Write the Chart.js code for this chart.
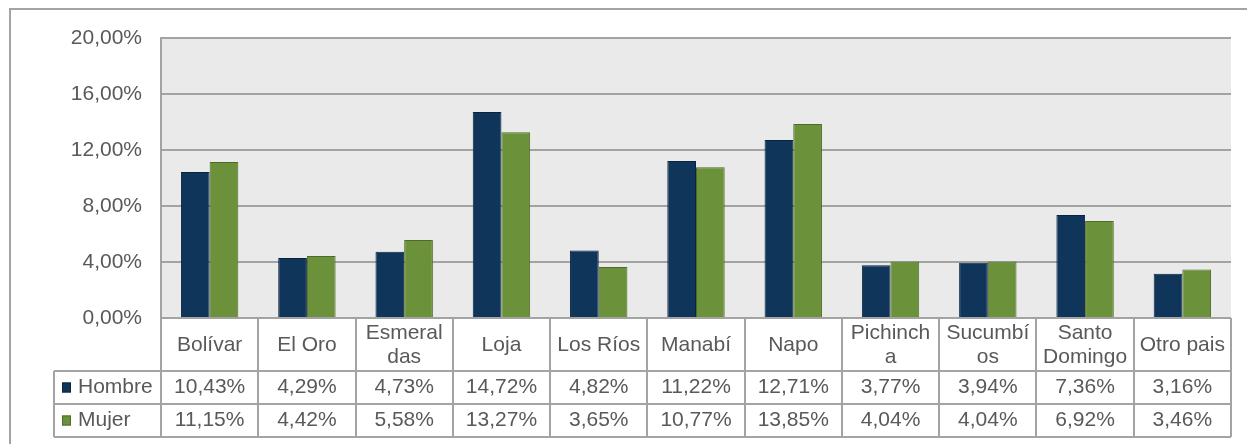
<!DOCTYPE html>
<html>
<head>
<meta charset="utf-8">
<script src="https://cdn.jsdelivr.net/npm/chart.js@4/dist/chart.umd.min.js"></script>
<style>
    html, body { margin: 0; padding: 0; background: #ffffff; }
    #wrap { width: 1247px; height: 444px; position: relative; }
</style>
</head>
<body>
<div id="wrap"><canvas id="chart"></canvas></div>
<script>
    // categories (line breaks as in the original table)
    var categories = [['Bolívar'], ['El Oro'], ['Esmeral', 'das'], ['Loja'], ['Los Ríos'], ['Manabí'],
        ['Napo'], ['Pichinch', 'a'], ['Sucumbí', 'os'], ['Santo', 'Domingo'], ['Otro pais']];
    var seriesNames = ['Hombre', 'Mujer'];
    var hombreValues = [10.43, 4.29, 4.73, 14.72, 4.82, 11.22, 12.71, 3.77, 3.94, 7.36, 3.16];
    var mujerValues = [11.15, 4.42, 5.58, 13.27, 3.65, 10.77, 13.85, 4.04, 4.04, 6.92, 3.46];
    var yTicks = [0, 4, 8, 12, 16, 20];

    var colors = ['#10355a', '#6b923a'];
    var borders = ['#0a2440', '#4e6b27'];
    var textColor = '#595959';
    var lineColor = '#a3a3a3';
    var fontFamily = '"Liberation Sans", Arial, sans-serif';

    function fmt(v) {
        return v.toFixed(2).replace('.', ',') + '%';
    }

    // plot background + outer frame
    var backgroundPlugin = {
        id: 'plotBackground',
        beforeDraw: function (chart) {
            var ctx = chart.ctx, a = chart.chartArea;
            ctx.save();
            ctx.fillStyle = '#e9eae9';
            ctx.fillRect(a.left, a.top, a.right - a.left, a.bottom - a.top);
            ctx.strokeStyle = lineColor;
            ctx.lineWidth = 2;
            ctx.beginPath();
            ctx.moveTo(10, 444);
            ctx.lineTo(10, 9);
            ctx.lineTo(1247, 9);
            ctx.stroke();
            ctx.restore();
        }
    };

    // data table under the plot
    var tablePlugin = {
        id: 'dataTable',
        afterDraw: function (chart) {
            var ctx = chart.ctx;
            var x = chart.scales.x;
            var n = categories.length;
            var left = x.left, right = x.right;
            var step = (right - left) / n;
            var top = chart.chartArea.bottom;
            var rowCat = 371, row1 = 404, row2 = 437;
            var legendLeft = 54;
            var series = [hombreValues, mujerValues];

            ctx.save();
            ctx.strokeStyle = lineColor;
            ctx.lineWidth = 2;
            ctx.beginPath();
            // verticals
            for (var i = 0; i <= n; i++) {
                var vx = Math.round(left + i * step);
                ctx.moveTo(vx, top);
                ctx.lineTo(vx, row2);
            }
            ctx.moveTo(legendLeft, rowCat);
            ctx.lineTo(legendLeft, row2);
            // horizontals
            [rowCat, row1, row2].forEach(function (hy) {
                ctx.moveTo(legendLeft, hy);
                ctx.lineTo(right, hy);
            });
            ctx.stroke();

            ctx.fillStyle = textColor;
            ctx.font = '21px ' + fontFamily;
            ctx.textAlign = 'center';
            ctx.textBaseline = 'middle';
            // category labels
            for (var c = 0; c < n; c++) {
                var cx = x.getPixelForValue(c);
                var lines = categories[c];
                var lh = 24;
                var cy = (top + rowCat) / 2 - (lines.length - 1) * lh / 2 + 1;
                for (var l = 0; l < lines.length; l++) {
                    ctx.fillText(lines[l], cx, cy + l * lh);
                }
            }
            // series rows
            var rowTops = [rowCat, row1];
            for (var s = 0; s < series.length; s++) {
                var ry = rowTops[s] + 16.5;
                for (var k = 0; k < n; k++) {
                    ctx.fillStyle = textColor;
                    ctx.textAlign = 'center';
                    ctx.fillText(fmt(series[s][k]), x.getPixelForValue(k), ry);
                }
                // legend key
                ctx.fillStyle = colors[s];
                ctx.fillRect(62, ry - 5, 9, 10);
                ctx.strokeStyle = borders[s];
                ctx.lineWidth = 1;
                ctx.strokeRect(62.5, ry - 4.5, 8, 9);
                ctx.fillStyle = textColor;
                ctx.textAlign = 'left';
                ctx.fillText(seriesNames[s], 78, ry);
            }
            ctx.restore();
        }
    };

    var data = {
        labels: categories.map(function (c) { return c.join(''); }),
        datasets: [{
            label: seriesNames[0],
            data: hombreValues,
            backgroundColor: colors[0],
            borderColor: borders[0],
            borderWidth: 1,
            categoryPercentage: 0.59,
            barPercentage: 1
        }, {
            label: seriesNames[1],
            data: mujerValues,
            backgroundColor: colors[1],
            borderColor: borders[1],
            borderWidth: 1,
            categoryPercentage: 0.59,
            barPercentage: 1
        }]
    };

    var config = {
        type: 'bar',
        data: data,
        options: {
            responsive: true,
            maintainAspectRatio: false,
            animation: false,
            layout: { padding: { left: 0, right: 16, top: 38, bottom: 126 } },
            plugins: {
                legend: { display: false },
                tooltip: { enabled: false }
            },
            scales: {
                x: {
                    display: false,
                    offset: true
                },
                y: {
                    min: 0,
                    max: 20,
                    afterFit: function (scale) { scale.width = 161; },
                    afterBuildTicks: function (scale) {
                        scale.ticks = yTicks.map(function (v) { return { value: v }; });
                    },
                    ticks: {
                        padding: 19,
                        color: textColor,
                        font: { family: fontFamily, size: 21 },
                        callback: function (v) { return fmt(v); }
                    },
                    grid: {
                        color: lineColor,
                        lineWidth: 2,
                        drawTicks: false
                    },
                    border: { display: true, color: lineColor, width: 2 }
                }
            }
        },
        plugins: [backgroundPlugin, tablePlugin]
    };

    new Chart(document.getElementById('chart').getContext('2d'), config);
</script>
</body>
</html>
